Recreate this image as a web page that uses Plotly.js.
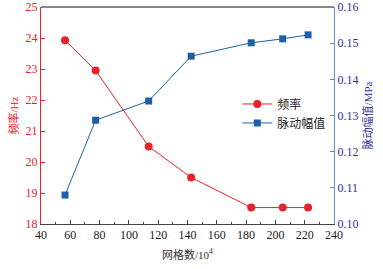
<!DOCTYPE html>
<html><head><meta charset="utf-8">
<script src="https://cdn.plot.ly/plotly-3.0.1.min.js"></script>
<style>body{margin:0;background:#fff}#c{width:383px;height:269px}</style>
</head><body><div id="c"></div>
<script>
const meshCounts = [56.4, 77.3, 113.5, 142.5, 183.5, 205, 222.3];
const frequency = [23.93, 22.95, 20.5, 19.5, 18.53, 18.53, 18.53];
const amplitude = [0.108, 0.1287, 0.134, 0.1464, 0.1501, 0.1512, 0.1523];
const names = ['频率', '脉动幅值'];
const serif = 'Liberation Serif, Noto Sans CJK SC, serif';
const red = '#e8212a', blue = '#1f5fa8';
Plotly.newPlot('c', [
  {x: meshCounts, y: frequency, name: names[0], mode: 'lines+markers', type: 'scatter',
   line: {color: red, width: 1}, marker: {color: red, size: 8, symbol: 'circle'}},
  {x: meshCounts, y: amplitude, name: names[1], mode: 'lines+markers', type: 'scatter', yaxis: 'y2',
   line: {color: blue, width: 1}, marker: {color: blue, size: 7, symbol: 'square'}}
], {
  width: 383, height: 269,
  margin: {l: 41, r: 49, t: 7, b: 45},
  paper_bgcolor: '#fff', plot_bgcolor: '#fff',
  font: {family: serif, size: 12},
  showlegend: true,
  legend: {x: 0.67, y: 0.62, xanchor: 'left', yanchor: 'top', bgcolor: 'rgba(0,0,0,0)',
    font: {family: serif, size: 12, color: '#222'}, tracegroupgap: 0, itemwidth: 30},
  xaxis: {range: [40, 240], dtick: 20, tick0: 40, ticks: 'inside', ticklen: 4, tickcolor: '#444',
    showline: true, linecolor: '#444', linewidth: 1, mirror: false, showgrid: false, zeroline: false,
    tickfont: {family: serif, size: 12, color: '#222'},
    minor: {dtick: 10, ticks: 'inside', ticklen: 2, tickcolor: '#444'},
    title: {text: '网格数/10<sup>4</sup>', font: {family: serif, size: 11, color: '#333'}, standoff: 9}},
  yaxis: {range: [18, 25], dtick: 1, ticks: 'inside', ticklen: 4, tickcolor: red,
    showline: true, linecolor: red, linewidth: 1, showgrid: false, zeroline: false,
    tickfont: {family: serif, size: 12, color: red},
    title: {text: '频率/Hz', font: {family: serif, size: 11, color: red}, standoff: 4}},
  yaxis2: {range: [0.10, 0.16], dtick: 0.01, tickformat: '.2f', overlaying: 'y', side: 'right',
    ticks: 'inside', ticklen: 4, tickcolor: '#5b8fd6',
    showline: true, linecolor: '#5b8fd6', linewidth: 1, showgrid: false, zeroline: false,
    tickfont: {family: serif, size: 12, color: '#2e3192'},
    title: {text: '脉动幅值/MPa', font: {family: serif, size: 11, color: '#2e3192'}, standoff: 6}},
  shapes: [{type: 'line', xref: 'paper', yref: 'paper', x0: 0, x1: 1, y0: 1, y1: 1,
    line: {color: '#111', width: 1}}]
}, {displayModeBar: false, staticPlot: true});
</script></body></html>
